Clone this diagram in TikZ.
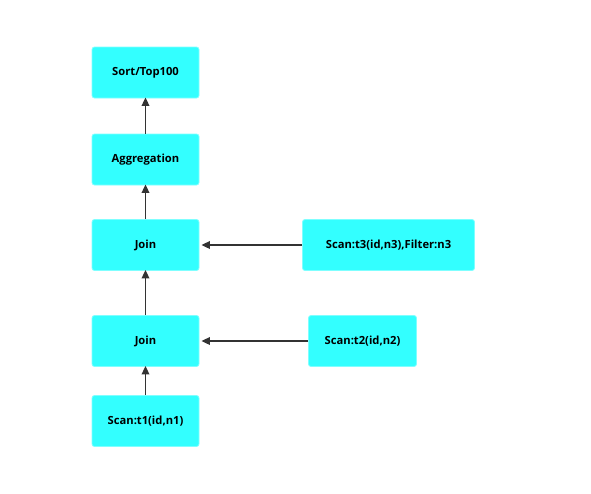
\documentclass[tikz,border=0pt]{standalone}
\usepackage{fontspec}
\setmainfont{Open Sans}
\usetikzlibrary{arrows.meta}
\definecolor{boxfill}{HTML}{33FFFF}
\definecolor{boxline}{HTML}{7FFFFF}
\definecolor{arrowc}{HTML}{333333}
\begin{document}
\begin{tikzpicture}[x=1pt,y=-1pt,
  opbox/.style={draw=boxline,line width=0.8pt,fill=boxfill,rounded corners=2.5pt,
    minimum height=51pt,inner sep=0pt,font=\bfseries\fontsize{11.2}{13}\selectfont,text=black},
  flow/.style={draw=arrowc,line width=1.8pt,-{Triangle[length=8.5pt,width=7.5pt]}}]
\useasboundingbox (0,0) rectangle (591,493);
\node[opbox,minimum width=107pt] (sort) at (145.5,72.5) {Sort/Top100};
\node[opbox,minimum width=107pt] (agg) at (145.5,159.5) {Aggregation};
\node[opbox,minimum width=107pt] (join1) at (145.5,245) {Join};
\node[opbox,minimum width=172pt] (scan3) at (388.5,245) {Scan:t3(id,n3),Filter:n3};
\node[opbox,minimum width=107pt] (join2) at (145.5,341) {Join};
\node[opbox,minimum width=108pt] (scan2) at (362.5,341) {Scan:t2(id,n2)};
\node[opbox,minimum width=107pt] (scan1) at (145.5,421) {Scan:t1(id,n1)};
\draw[flow] (agg.north) -- ([yshift=1pt]sort.south);
\draw[flow] (join1.north) -- ([yshift=1pt]agg.south);
\draw[flow] (join2.north) -- ([yshift=1pt]join1.south);
\draw[flow] (scan1.north) -- ([yshift=1pt]join2.south);
\draw[flow] (scan3.west) -- ([xshift=2pt]join1.east);
\draw[flow] (scan2.west) -- ([xshift=2pt]join2.east);
\end{tikzpicture}
\end{document}
